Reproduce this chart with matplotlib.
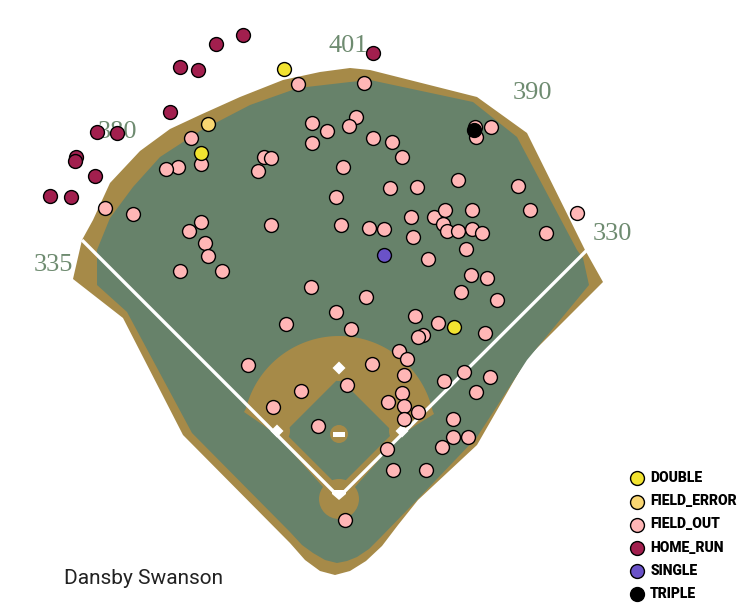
import numpy as np
import matplotlib
matplotlib.use("Agg")
import matplotlib.pyplot as plt
from matplotlib.patches import Polygon, Circle, Rectangle

# hit coordinates (image-space, y grows downward), one pair of lists per outcome
field_out_x = [298, 364, 191, 178, 166, 201, 264, 271, 258, 312, 327, 312, 356, 349, 373,
               343, 336, 105, 133, 201, 189, 205, 208, 180, 222, 271, 341, 369, 311, 366,
               475, 476, 491, 392, 402, 458, 390, 417, 518, 530, 577, 546, 411, 434, 445,
               472, 443, 447, 458, 472, 482, 384, 413, 428, 466, 471, 487, 461, 497,
               336, 351, 286, 415, 438, 423, 418, 485, 399, 407, 372, 404, 347, 444, 464,
               490, 476, 402, 388, 404, 418, 404, 453, 453, 468, 442, 387, 393, 426, 345,
               248, 301, 273, 318]
field_out_y = [84, 83, 138, 167, 169, 164, 157, 158, 171, 123, 131, 143, 117, 126, 138,
               167, 197, 208, 214, 222, 231, 243, 256, 271, 271, 225, 225, 228, 287, 297,
               127, 137, 127, 142, 157, 180, 188, 187, 186, 210, 213, 233, 217, 217, 210,
               210, 224, 231, 231, 229, 233, 229, 237, 259, 249, 275, 278, 292, 300,
               312, 329, 324, 316, 323, 335, 337, 333, 351, 359, 364, 375, 385, 381, 372,
               377, 392, 393, 402, 406, 412, 419, 419, 437, 437, 447, 449, 470, 470, 520,
               365, 391, 407, 426]
double_x = [284, 201, 454]
double_y = [69, 153, 327]
field_error_x = [208]
field_error_y = [124]
home_run_x = [243, 216, 180, 198, 170, 373, 97, 117, 76, 75, 95, 50, 71]
home_run_y = [35, 44, 67, 70, 112, 53, 132, 133, 157, 161, 176, 196, 197]
single_x = [384]
single_y = [255]
triple_x = [474]
triple_y = [130]

events = ["DOUBLE", "FIELD_ERROR", "FIELD_OUT", "HOME_RUN", "SINGLE", "TRIPLE"]
fence_labels = ["335", "380", "401", "390", "330"]
player = "Dansby Swanson"

# stadium geometry (same image-space units)
outer_wall = [(73, 279), (82, 240), (93, 220), (110, 183), (140, 151), (170, 129),
              (200, 115), (240, 97), (283, 80), (320, 72), (350, 68), (370, 70),
              (477, 97), (527, 133), (585, 250), (603, 282), (527, 358), (477, 445),
              (418, 500), (398, 525), (382, 546), (366, 561), (350, 571), (335, 575),
              (320, 571), (305, 560), (290, 543), (183, 435), (123, 318)]
inner_wall = [(97, 250), (97, 285), (127, 312), (192, 433), (290, 532), (302, 545),
              (313, 553), (325, 560), (337, 563), (347, 561), (357, 557), (369, 549),
              (380, 538), (417, 500), (477, 437), (527, 360), (589, 285), (583, 258),
              (577, 250), (517, 137), (473, 102), (370, 80), (350, 82), (298, 88),
              (250, 105), (200, 131), (160, 157), (133, 187), (110, 218)]
home = (339, 497)
first_b, second_b, third_b = (402, 431), (339, 368), (277, 431)
left_pole, right_pole = (82, 240), (587, 250)
label_pos = [(53, 265), (117, 132), (348, 46), (532, 93), (612, 234)]

GRASS = "#67826A"
DIRT = "#A68A48"
TEXT_GREEN = "#6E8B70"
colors = {"DOUBLE": "#F2E330", "FIELD_ERROR": "#F9D672", "FIELD_OUT": "#FFB6B6",
          "HOME_RUN": "#A21F4E", "SINGLE": "#6A52C8", "TRIPLE": "#000000"}

fig = plt.figure(figsize=(7.54, 6.16), dpi=100)
ax = fig.add_axes([0, 0, 1, 1])
ax.set_xlim(0, 754)
ax.set_ylim(616, 0)
ax.axis("off")

# outfield wall + grass
ax.add_patch(Polygon(outer_wall, closed=True, fc=DIRT, ec="none", zorder=1))
ax.add_patch(Polygon(inner_wall, closed=True, fc=GRASS, ec="none", zorder=2))

# infield dirt: arc around the mound down to home
mound = (339, 432)
a = np.radians(np.linspace(12.8, 166, 80))
arc = [(mound[0] + 96 * np.cos(t), mound[1] - 96 * np.sin(t)) for t in a]
dirt = arc + [(244, 412), (276, 434), (339, 505), (402, 434), (434, 414)]
dirt_patch = Polygon(dirt, closed=True, fc=DIRT, ec="none", zorder=3)
ax.add_patch(dirt_patch)

# infield grass diamond
ax.add_patch(Polygon([(339, 487), (393.5, 432.5), (339, 378), (284.5, 432.5)],
                     closed=True, fc=GRASS, ec="none", zorder=4))
for c, r in [(second_b, 13), (third_b, 13), (first_b, 13)]:
    cp = Circle(c, r, fc=DIRT, ec="none", zorder=5)
    ax.add_patch(cp)
    cp.set_clip_path(dirt_patch)
for c, r in [((339, 499), 20), ((339, 434), 9)]:
    ax.add_patch(Circle(c, r, fc=DIRT, ec="none", zorder=5))

# foul lines
ax.plot([left_pole[0], home[0], right_pole[0]], [left_pole[1], home[1], right_pole[1]],
        color="white", lw=2.4, solid_capstyle="butt", zorder=6)

# bases, rubber, plate
for bx, by in [second_b, third_b, first_b]:
    d = 6.5
    ax.add_patch(Polygon([(bx, by - d), (bx + d, by), (bx, by + d), (bx - d, by)],
                         closed=True, fc="white", ec="none", zorder=7))
ax.add_patch(Rectangle((333, 432), 12, 5, fc="white", ec="none", zorder=7))
ax.add_patch(Polygon([(332, 490), (346, 490), (346, 494), (339, 500), (332, 494)],
                     closed=True, fc="white", ec="none", zorder=7))

# fence distances
for txt, (x, y) in zip(fence_labels, label_pos):
    ax.text(x, y, txt, ha="center", va="center", fontsize=19,
            family="Liberation Serif", color=TEXT_GREEN, zorder=8)

# hits
data = {"DOUBLE": (double_x, double_y), "FIELD_ERROR": (field_error_x, field_error_y),
        "FIELD_OUT": (field_out_x, field_out_y), "HOME_RUN": (home_run_x, home_run_y),
        "SINGLE": (single_x, single_y), "TRIPLE": (triple_x, triple_y)}
handles = {}
for ev in ["FIELD_OUT", "HOME_RUN", "FIELD_ERROR", "DOUBLE", "SINGLE", "TRIPLE"]:
    xs, ys = data[ev]
    handles[ev] = ax.scatter(xs, ys, s=100, c=colors[ev], edgecolors="black",
                             linewidths=1.0, zorder=10, label=ev)

leg = ax.legend([handles[e] for e in events], events, loc="upper left",
                bbox_to_anchor=(630 / 754, 1 - 471 / 616), frameon=False,
                borderpad=0, borderaxespad=0, handlelength=1.0, handletextpad=0.45,
                labelspacing=0.66, scatterpoints=1,
                prop={"family": "Roboto", "weight": "heavy", "size": 10})

ax.text(143, 578, player, ha="center", va="center", fontsize=15,
        family="Roboto", color="#222222", zorder=8)

fig.savefig("out.png", dpi=100)
